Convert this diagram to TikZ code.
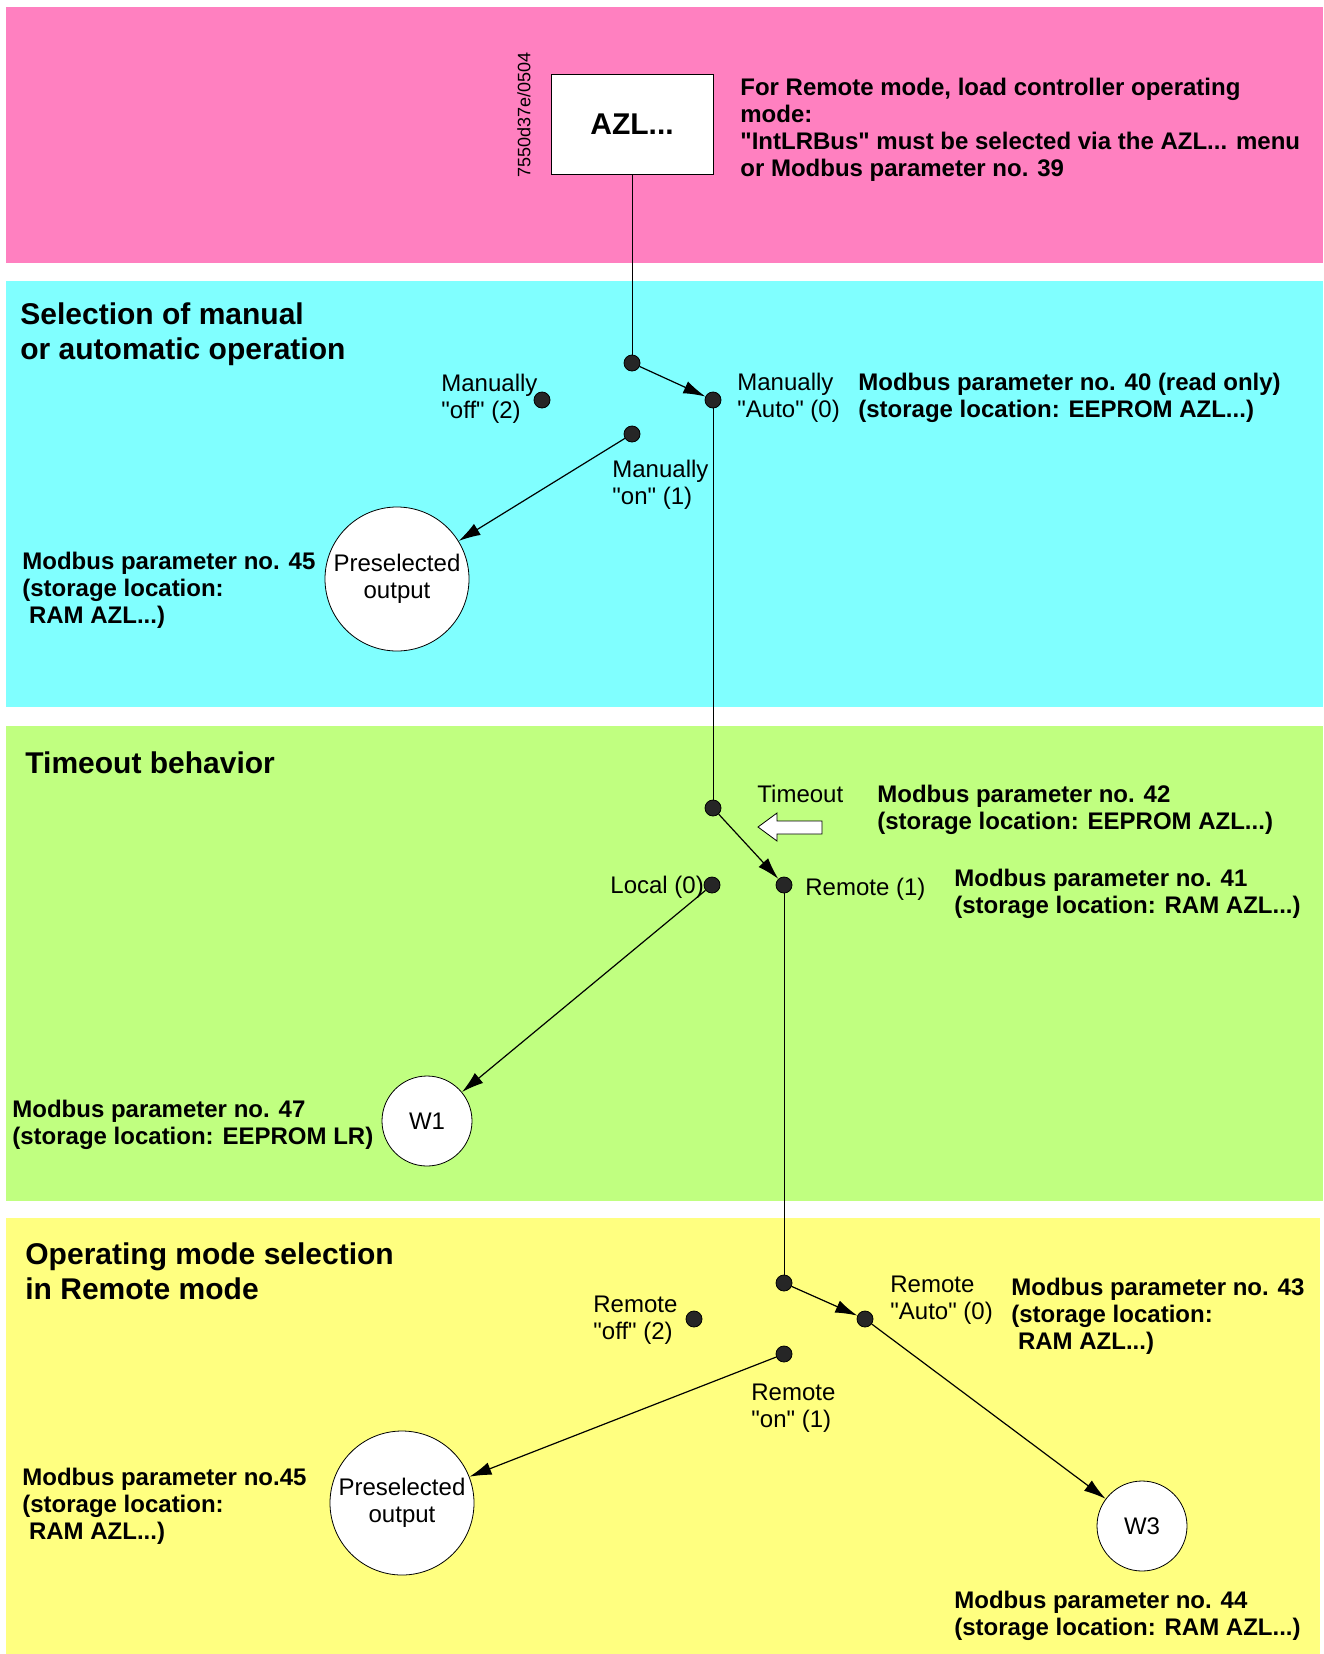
\documentclass[tikz,border=0pt]{standalone}
\usepackage{fontspec}
\setmainfont{Liberation Sans}[Ligatures=TeXOff]
\usetikzlibrary{arrows.meta}
\definecolor{bandpink}{HTML}{FF80C0}
\definecolor{bandcyan}{HTML}{80FFFF}
\definecolor{bandgreen}{HTML}{C0FF80}
\definecolor{bandyellow}{HTML}{FFFF80}
\begin{document}
\begin{tikzpicture}[
   x=0.5pt,y=-0.5pt,
   dot/.style={circle,fill=black!85,draw=black,inner sep=0pt,minimum size=8pt},
   disc/.style={circle,draw,fill=white,inner sep=0pt,align=center},
   txt/.style={anchor=west,align=left,inner sep=0pt},
   bold/.style={txt,font=\fontsize{12}{13.5}\selectfont\bfseries},
   head/.style={txt,font=\fontsize{15}{17.5}\selectfont\bfseries},
   arr/.style={line width=0.6pt,-{Latex[length=11pt,width=6.5pt]}},
   every node/.style={font=\fontsize{12}{13.5}\selectfont}
 ]
  \useasboundingbox (0,0) rectangle (1323,1654);
  \fill[bandpink] (6,7) rectangle (1323,263);
  \fill[bandcyan] (6,281) rectangle (1323,707);
  \fill[bandgreen] (6,726) rectangle (1323,1201);
  \fill[bandyellow] (6,1218) rectangle (1320,1654);

  \node[draw,fill=white,minimum width=81pt,minimum height=50pt,font=\fontsize{15}{17}\selectfont\bfseries] (azl) at (632,124) {AZL...};
  \node[rotate=90,inner sep=0pt,font=\fontsize{9}{9}\selectfont] (code) at (524,115) {7550d37e/0504};
  \node[bold] (note) at (740,130) {For Remote mode, load controller operating\\mode:\\"IntLRBus" must be selected via the AZL... menu\\or Modbus parameter no. 39};

  \node[head] (t1) at (20,334) {Selection of manual\\or automatic operation};
  \node[dot] (piv1) at (632,363) {};
  \node[dot] (auto1) at (713,400) {};
  \node[dot] (off1) at (542,400) {};
  \node[dot] (on1) at (632,434) {};
  \node[disc,minimum size=72pt] (pre1) at (397,579) {Preselected\\output};
  \node[txt] (loff1) at (441,399) {Manually\\"off" (2)};
  \node[txt] (lauto1) at (737,398) {Manually\\"Auto" (0)};
  \node[txt] (lon1) at (612,485) {Manually\\"on" (1)};
  \node[bold] (m40) at (858,398) {Modbus parameter no. 40 (read only)\\(storage location: EEPROM AZL...)};
  \node[bold] (m45a) at (22,590) {Modbus parameter no. 45\\(storage location:\\ \ RAM AZL...)};
  \draw (azl) -- (piv1);
  \draw[arr] (piv1) -- (auto1);
  \draw[arr] (on1) -- (pre1);

  \node[head] (t2) at (25,763) {Timeout behavior};
  \node[dot] (piv2) at (713,808) {};
  \node[dot] (rem2) at (784,885) {};
  \node[dot] (loc2) at (712,885) {};
  \node[disc,minimum size=45pt] (w1) at (427,1121) {W1};
  \node[txt] (ltime) at (757,794) {Timeout};
  \node[txt] (lloc) at (610,887) {Local (0)};
  \node[txt] (lrem) at (805,889) {Remote (1)};
  \node[bold] (m42) at (877,810) {Modbus parameter no. 42\\(storage location: EEPROM AZL...)};
  \node[bold] (m41) at (954,894) {Modbus parameter no. 41\\(storage location: RAM AZL...)};
  \node[bold] (m47) at (12,1125) {Modbus parameter no. 47\\(storage location: EEPROM LR)};
  \draw[fill=white] (758,827) -- (777,813) -- (777,821) -- (822,821) -- (822,834) -- (777,834) -- (777,841) -- cycle;
  \draw (auto1) -- (piv2);
  \draw[arr] (piv2) -- (rem2);
  \draw[arr] (loc2) -- (w1);

  \node[head] (t3) at (25,1271) {Operating mode selection\\in Remote mode};
  \node[dot] (piv3) at (784,1283) {};
  \node[dot] (auto3) at (865,1319) {};
  \node[dot] (off3) at (694,1319) {};
  \node[dot] (on3) at (784,1354) {};
  \node[disc,minimum size=72pt] (pre3) at (402,1503) {Preselected\\output};
  \node[disc,minimum size=45pt] (w3) at (1142,1526) {W3};
  \node[txt] (loff3) at (593,1320) {Remote\\"off" (2)};
  \node[txt] (lauto3) at (890,1300) {Remote\\"Auto" (0)};
  \node[txt] (lon3) at (751,1408) {Remote\\"on" (1)};
  \node[bold] (m43) at (1011,1316) {Modbus parameter no. 43\\(storage location:\\ \ RAM AZL...)};
  \node[bold] (m45b) at (22,1506) {Modbus parameter no.45\\(storage location:\\ \ RAM AZL...)};
  \node[bold] (m44) at (954,1616) {Modbus parameter no. 44\\(storage location: RAM AZL...)};
  \draw (rem2) -- (piv3);
  \draw[arr] (piv3) -- (auto3);
  \draw[arr] (auto3) -- (w3);
  \draw[arr] (on3) -- (pre3);
 \end{tikzpicture}
\end{document}
